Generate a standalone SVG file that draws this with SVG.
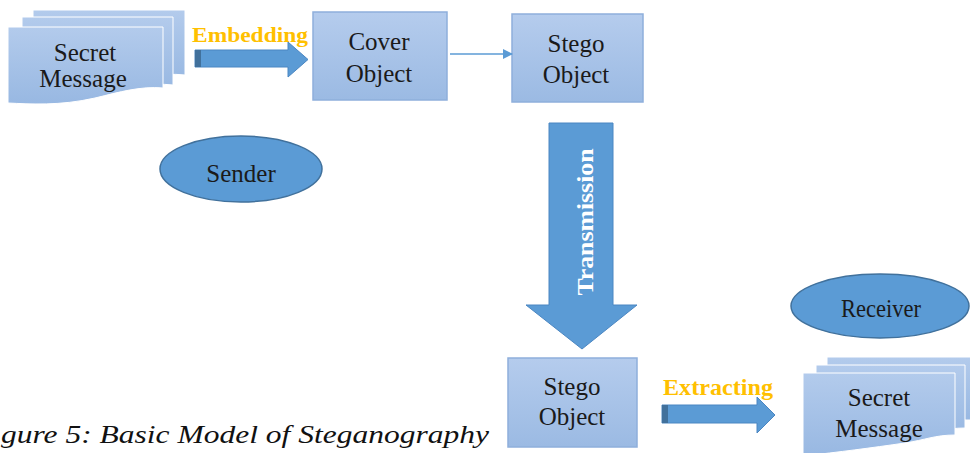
<svg xmlns="http://www.w3.org/2000/svg" width="970" height="453" viewBox="0 0 970 453">
<defs>
<linearGradient id="boxg" x1="0" y1="0" x2="0" y2="1">
<stop offset="0" stop-color="#b5cced"/>
<stop offset="1" stop-color="#9bbae3"/>
</linearGradient>
<linearGradient id="docg" x1="0" y1="0" x2="0" y2="1">
<stop offset="0" stop-color="#b3cbec"/>
<stop offset="1" stop-color="#98b8e2"/>
</linearGradient>
<marker id="ah" markerWidth="10" markerHeight="10" refX="9" refY="5" orient="auto" markerUnits="userSpaceOnUse">
<path d="M0,0 L10,5 L0,10 Z" fill="#5b9bd5"/>
</marker>
</defs>
<style>
text{font-family:'Liberation Serif','Times New Roman','DejaVu Serif',serif}
.box{fill:url(#boxg);stroke:#8eafdb;stroke-width:1.5}
.doc{fill:url(#docg);stroke:#ffffff;stroke-width:1}
.lbl{font-size:25px;fill:#1a1a1a;text-anchor:middle}
.orange{font-weight:bold;fill:#ffc000}
.barrow{fill:#5b9bd5;stroke:#4a86c2;stroke-width:1}
.dark{fill:#41719c}
.ell{fill:#5b9bd5;stroke:#41719c;stroke-width:1.5}
</style>
<rect width="970" height="453" fill="#ffffff"/>

<g id="secret-top">
<path class="doc" d="M33,10 H185 V75 C160,72 140,80 120,80 L33,80 Z"/>
<path class="doc" d="M22,17 H173 V85 C150,82 130,90 110,90 L22,90 Z"/>
<path class="doc" d="M8,27 H163 V88 C140,86 120,92 95,98 C60,106 30,104 8,103 Z"/>
<text class="lbl" x="85" y="61">Secret</text>
<text class="lbl" x="83" y="87">Message</text>
</g>

<g id="cover">
<rect class="box" x="313" y="12" width="134" height="88"/>
<text class="lbl" x="379" y="50">Cover</text>
<text class="lbl" x="379" y="82">Object</text>
</g>

<g id="stego-top">
<rect class="box" x="512" y="14" width="131" height="88"/>
<text class="lbl" x="576" y="52">Stego</text>
<text class="lbl" x="576" y="83">Object</text>
</g>

<g id="sender">
<ellipse class="ell" cx="241" cy="169" rx="81" ry="33"/>
<text class="lbl" x="241" y="182">Sender</text>
</g>

<g id="receiver">
<ellipse class="ell" cx="880" cy="306" rx="89" ry="32"/>
<text class="lbl" x="881" y="317" textLength="80" lengthAdjust="spacingAndGlyphs">Receiver</text>
</g>

<g id="stego-bottom">
<rect class="box" x="508" y="358" width="129" height="89"/>
<text class="lbl" x="572" y="395">Stego</text>
<text class="lbl" x="572" y="425">Object</text>
</g>

<g id="secret-bottom">
<path class="doc" d="M827,357 H980 V420 L827,420 Z"/>
<path class="doc" d="M816,365 H965 V428 C945,428 930,433 910,436 L816,436 Z"/>
<path class="doc" d="M803,373 H955 V435 C935,435 925,440 905,443 C870,448 840,452 803,456 Z"/>
<text class="lbl" x="879" y="406">Secret</text>
<text class="lbl" x="879" y="437">Message</text>
</g>

<g id="connectors">
<g id="embedding">
<path class="barrow" d="M195,50 H288 V42 L308,59.5 L288,77 V67 H195 Z"/>
<rect class="dark" x="195" y="50" width="6" height="17"/>
<text class="orange" x="192" y="42" font-size="22" textLength="116" lengthAdjust="spacingAndGlyphs">Embedding</text>
</g>
<line x1="450" y1="54" x2="512" y2="54" stroke="#5b9bd5" stroke-width="1.5" marker-end="url(#ah)"/>
<g id="transmission">
<path class="barrow" d="M549,123 H613 V305 H637 L582,349 L526,305 H549 Z" stroke="#8fb4de"/>
<text x="0" y="0" transform="translate(593,222) rotate(-90)" font-weight="bold" font-size="24" fill="#ffffff" text-anchor="middle" textLength="147" lengthAdjust="spacingAndGlyphs">Transmission</text>
</g>
<g id="extracting">
<path class="barrow" d="M662,405 H757 V397 L775,415 L757,433 V423 H662 Z"/>
<rect class="dark" x="662" y="405" width="6" height="18"/>
<text class="orange" x="663" y="395" font-size="23" textLength="110" lengthAdjust="spacingAndGlyphs">Extracting</text>
</g>
</g>

<text x="1" y="443" font-style="italic" font-size="26" fill="#111111" textLength="488" lengthAdjust="spacingAndGlyphs">gure 5: Basic Model of Steganography</text>
</svg>
